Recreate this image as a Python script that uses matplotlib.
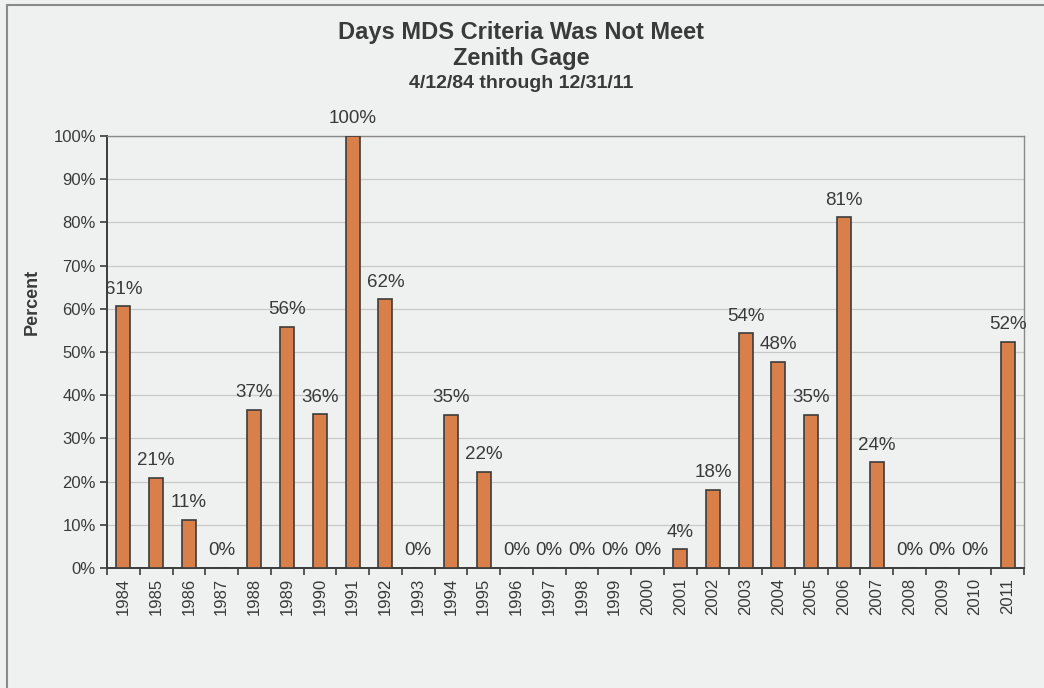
import numpy as np
import matplotlib.pyplot as plt
from matplotlib.patches import Rectangle
from matplotlib.ticker import PercentFormatter, FixedLocator

plt.rcParams['font.family'] = ['Liberation Sans', 'DejaVu Sans']

# Data
years = [str(y) for y in range(1984, 2012)]
pct = [60.6, 20.9, 11.2, 0, 36.6, 55.8, 35.6, 100, 62.2, 0, 35.4, 22.3,
       0, 0, 0, 0, 0, 4.3, 18.1, 54.3, 47.8, 35.4, 81.2, 24.5, 0, 0, 0, 52.3]

bg = '#eff1f1'
txt = '#3a3a3a'
bar_col = '#d9804a'

fig = plt.figure(figsize=(10.44, 6.88), dpi=100, facecolor=bg)
ax = fig.add_axes([107 / 1044, 1 - 568 / 688, (1024 - 107) / 1044, (568 - 136) / 688])
ax.set_facecolor(bg)

x = np.arange(len(years))
ax.bar(x, pct, width=0.43, color=bar_col, edgecolor='#3c3c3c', linewidth=1.2, zorder=3)

for xi, v in zip(x, pct):
    ax.text(xi, v + 2.0, f'{round(v):d}%', ha='center', va='bottom',
            fontsize=13.5, color=txt, zorder=4)

ax.set_xlim(-0.5, len(years) - 0.5)
ax.set_ylim(0, 100)
ax.set_yticks(np.arange(0, 101, 10))
ax.yaxis.set_major_formatter(PercentFormatter(decimals=0))
ax.grid(axis='y', color='#c8c8c8', linewidth=0.9, zorder=0)

ax.set_xticks(x)
ax.set_xticklabels(years, rotation=90, fontsize=12, color=txt)
ax.xaxis.set_minor_locator(FixedLocator(np.arange(-0.5, len(years), 1.0)))
ax.tick_params(axis='x', which='major', length=0, pad=7)
ax.tick_params(axis='x', which='minor', length=5, width=1.2, color='#3c3c3c')
ax.tick_params(axis='y', length=5, width=1.2, color='#3c3c3c', labelsize=12, labelcolor=txt, pad=3)

for s in ['left', 'bottom']:
    ax.spines[s].set_color('#3c3c3c')
    ax.spines[s].set_linewidth(1.4)
for s in ['top', 'right']:
    ax.spines[s].set_color('#8a8a8a')
    ax.spines[s].set_linewidth(1.0)

fig.text(32 / 1044, 1 - 302 / 688, 'Percent', rotation=90, ha='center', va='center',
         fontsize=13, fontweight='bold', color=txt)

fig.text(521 / 1044, 1 - 33 / 688, 'Days MDS Criteria Was Not Meet', ha='center', va='center',
         fontsize=17, fontweight='bold', color=txt)
fig.text(521 / 1044, 1 - 59 / 688, 'Zenith Gage', ha='center', va='center',
         fontsize=17, fontweight='bold', color=txt)
fig.text(521 / 1044, 1 - 83 / 688, '4/12/84 through 12/31/11', ha='center', va='center',
         fontsize=14, fontweight='bold', color=txt)

# outer chart frame
fig.patches.append(Rectangle((7 / 1044, -0.01), 1.0, 1 - 5 / 688 + 0.01, transform=fig.transFigure,
                             fill=False, edgecolor='#8a8a8a', linewidth=1.5))

fig.savefig('out.png', dpi=100, facecolor=bg)
